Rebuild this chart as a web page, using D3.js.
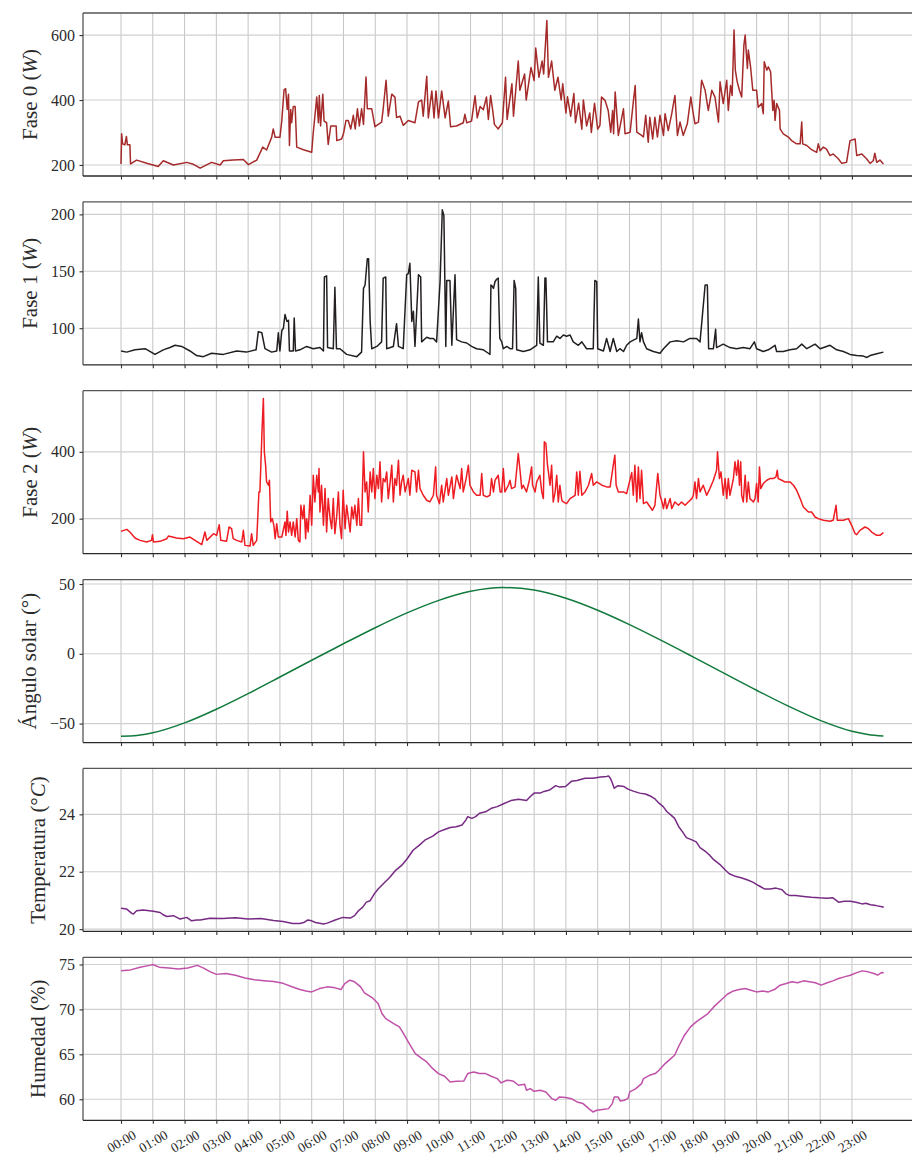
<!DOCTYPE html>
<html>
<head>
<meta charset="utf-8">
<script src="https://cdn.jsdelivr.net/npm/d3@7"></script>
<style>
  body { margin: 0; background: #fff; }
  svg { display: block; font-family: "Liberation Serif", "Times New Roman", serif; }
</style>
</head>
<body>
<div id="chart"></div>
<script>
// hours of the day (x values are decimal hours)
const hourTicks = [0,1,2,3,4,5,6,7,8,9,10,11,12,13,14,15,16,17,18,19,20,21,22,23];
const hourLabels = ["00:00","01:00","02:00","03:00","04:00","05:00","06:00","07:00","08:00","09:00","10:00","11:00",
  "12:00","13:00","14:00","15:00","16:00","17:00","18:00","19:00","20:00","21:00","22:00","23:00"];
const xDomain = [-1.196, 25.11];

// Fase 0 (W)
const fase0 = [[0,203],[0.02,296],[0.05,265],[0.12,262],[0.17,288],[0.2,262],[0.28,262],[0.3,203],
  [0.49,215],[0.81,205],[1.17,195],[1.33,213],[1.65,200],[2.07,208],[2.28,202],[2.49,190],[2.85,208],[3.12,200],
  [3.22,213],[3.53,215],[3.85,217],[4.01,201],[4.27,215],[4.46,255],[4.58,246],[4.74,285],[4.79,311],[4.85,285],
  [5.0,285],[5.06,337],[5.13,431],[5.18,435],[5.23,371],[5.27,418],[5.3,260],[5.34,371],[5.37,330],[5.42,380],
  [5.48,380],[5.53,255],[5.74,247],[6.0,239],[6.05,300],[6.16,409],[6.21,330],[6.24,414],[6.28,320],[6.35,418],
  [6.39,335],[6.47,330],[6.52,263],[6.6,320],[6.77,320],[6.79,275],[6.94,280],[7.0,296],[7.08,337],[7.15,337],
  [7.23,311],[7.31,353],[7.37,311],[7.44,373],[7.5,320],[7.57,373],[7.63,325],[7.71,471],[7.75,373],[7.89,373],
  [7.99,318],[8.2,332],[8.25,373],[8.34,461],[8.41,350],[8.52,418],[8.62,409],[8.67,346],[8.78,350],[8.88,322],
  [9.04,337],[9.25,330],[9.36,394],[9.46,400],[9.51,350],[9.62,473],[9.67,345],[9.78,428],[9.85,345],[9.91,428],
  [9.99,345],[10.09,428],[10.2,345],[10.3,397],[10.37,318],[10.56,320],[10.77,330],[10.82,356],[10.88,330],
  [11.03,335],[11.14,413],[11.21,345],[11.3,380],[11.4,370],[11.5,409],[11.56,340],[11.63,414],[11.7,365],
  [11.75,325],[11.87,311],[11.93,320],[12.0,330],[12.1,470],[12.15,340],[12.3,450],[12.35,350],[12.5,520],
  [12.55,430],[12.7,480],[12.75,400],[12.9,500],[13.0,460],[13.05,560],[13.15,470],[13.25,520],[13.3,480],
  [13.4,645],[13.45,470],[13.55,520],[13.65,430],[13.75,470],[13.85,400],[13.9,450],[14.0,360],[14.05,410],
  [14.15,350],[14.25,420],[14.3,330],[14.4,390],[14.5,310],[14.55,400],[14.65,320],[14.75,360],[14.8,300],
  [14.9,390],[15.0,310],[15.07,322],[15.12,409],[15.23,399],[15.33,368],[15.41,301],[15.47,368],[15.5,296],
  [15.55,425],[15.65,291],[15.81,373],[15.86,296],[16.02,301],[16.12,394],[16.18,445],[16.23,301],[16.38,291],
  [16.44,286],[16.51,353],[16.59,270],[16.64,347],[16.73,280],[16.8,347],[16.88,286],[16.96,353],[17.07,291],
  [17.12,358],[17.22,306],[17.33,358],[17.43,414],[17.51,291],[17.59,332],[17.69,291],[17.82,327],[17.93,409],
  [17.99,368],[18.06,327],[18.17,332],[18.27,461],[18.38,430],[18.48,368],[18.59,430],[18.69,409],[18.8,332],
  [18.85,456],[18.95,389],[19.06,461],[19.11,368],[19.18,445],[19.23,414],[19.29,616],[19.33,492],[19.39,456],
  [19.46,430],[19.53,409],[19.6,569],[19.64,600],[19.71,497],[19.74,554],[19.81,502],[19.88,430],[20.0,430],
  [20.05,378],[20.16,389],[20.21,358],[20.24,518],[20.32,492],[20.37,502],[20.44,487],[20.51,368],[20.55,399],
  [20.58,337],[20.63,389],[20.72,368],[20.74,311],[20.84,296],[21.0,286],[21.1,275],[21.26,265],[21.37,265],
  [21.42,332],[21.45,265],[21.58,260],[21.73,247],[21.89,239],[21.94,265],[22.0,244],[22.1,255],[22.2,249],
  [22.31,229],[22.41,234],[22.57,219],[22.68,205],[22.83,208],[22.94,275],[23.1,280],[23.15,229],[23.31,234],
  [23.46,219],[23.57,205],[23.67,213],[23.72,236],[23.78,208],[23.88,215],[23.99,203]];

// Fase 1 (W)
const fase1 = [[0,80],[0.18,79],[0.44,81],[0.76,82],[1.07,77],[1.33,81],[1.54,83],[1.7,85],[1.91,84],[2.17,80],
  [2.38,76],[2.59,75],[2.85,78],[3.22,77],[3.64,80],[3.95,79],[4.25,81],[4.32,97],[4.43,96],[4.53,82],[4.74,79],
  [4.9,80],[4.95,96],[5.0,80],[5.06,98],[5.11,100],[5.16,112],[5.22,106],[5.27,107],[5.3,80],[5.42,80],[5.45,109],
  [5.49,80],[5.63,81],[5.84,84],[6.05,82],[6.26,83],[6.37,80],[6.4,145],[6.47,146],[6.5,83],[6.68,82],[6.73,136],
  [6.78,82],[6.89,82],[7.1,77],[7.42,75],[7.57,79],[7.63,135],[7.68,138],[7.75,161],[7.79,161],[7.84,106],
  [7.89,82],[8.05,84],[8.2,88],[8.25,144],[8.33,145],[8.36,82],[8.57,84],[8.67,104],[8.73,84],[8.88,82],[8.99,147],
  [9.04,148],[9.09,157],[9.15,106],[9.2,115],[9.25,84],[9.36,147],[9.43,145],[9.46,88],[9.62,92],[9.72,91],
  [9.83,91],[9.93,88],[10.04,141],[10.11,204],[10.16,199],[10.22,84],[10.25,142],[10.35,142],[10.41,85],
  [10.51,147],[10.56,90],[10.72,88],[10.88,87],[11.03,84],[11.19,82],[11.4,81],[11.56,78],[11.61,77],[11.64,138],
  [11.68,137],[11.72,135],[11.77,141],[11.82,143],[11.87,144],[11.92,91],[11.98,88],[12.03,82],[12.14,84],
  [12.24,82],[12.32,82],[12.37,142],[12.42,135],[12.45,81],[12.66,79.5],[12.87,81],[13.03,84],[13.08,85],
  [13.13,145],[13.18,87],[13.29,85],[13.34,144],[13.37,144],[13.42,88],[13.6,88],[13.71,93],[13.81,91],[13.92,94],
  [14.02,93],[14.13,94],[14.23,88],[14.39,85],[14.5,88],[14.65,82],[14.86,82],[14.91,142],[14.97,141],[15.0,82],
  [15.18,80],[15.28,91],[15.39,79.5],[15.49,91],[15.6,79.5],[15.7,82],[15.81,79.5],[15.91,85],[16.02,88],
  [16.23,91],[16.28,108],[16.33,88],[16.38,96],[16.44,88],[16.54,82],[16.75,79.5],[16.96,78],[17.07,82],[17.28,88],
  [17.49,89],[17.7,88],[17.9,91],[18.11,91],[18.22,88],[18.38,138],[18.45,138],[18.49,82],[18.64,82],[18.71,99],
  [18.74,83],[18.95,86],[19.16,83],[19.37,82],[19.58,83],[19.79,82],[19.93,88],[20.0,82],[20.21,79.5],[20.37,81],
  [20.58,85],[20.63,79.5],[20.84,79.5],[21.05,81],[21.26,82],[21.42,86],[21.58,82],[21.84,86],[22.0,82],[22.2,84],
  [22.31,85],[22.52,81],[22.73,79.5],[22.94,77],[23.15,76],[23.36,75.5],[23.47,74.3],[23.57,76],[23.78,77.5],
  [23.99,79]];

// Fase 2 (W)
const fase2 = [[0,162],[0.18,168],[0.28,160],[0.44,142],[0.6,135],[0.81,130],[0.96,135],[0.99,152],[1.02,130],
  [1.23,132],[1.44,140],[1.49,148],[1.75,142],[1.96,140],[2.17,145],[2.33,135],[2.54,122],[2.64,160],[2.7,135],
  [2.91,155],[3.01,150],[3.09,182],[3.14,135],[3.32,132],[3.4,175],[3.48,170],[3.53,140],[3.64,135],[3.8,130],
  [3.85,165],[3.9,120],[4.06,118],[4.11,155],[4.16,120],[4.27,135],[4.34,280],[4.37,280],[4.4,360],[4.44,470],
  [4.48,560],[4.51,400],[4.55,360],[4.58,310],[4.64,300],[4.67,315],[4.71,190],[4.76,200],[4.81,180],[4.85,140],
  [4.9,185],[4.95,145],[5.06,145],[5.16,190],[5.19,150],[5.23,222],[5.27,160],[5.32,190],[5.37,150],[5.42,190],
  [5.48,145],[5.53,200],[5.58,135],[5.63,130],[5.66,240],[5.72,200],[5.76,240],[5.81,140],[5.84,200],[5.89,160],
  [5.95,270],[6.0,180],[6.05,330],[6.1,250],[6.16,330],[6.21,280],[6.23,350],[6.26,220],[6.31,300],[6.37,180],
  [6.42,290],[6.47,160],[6.52,260],[6.58,200],[6.63,170],[6.68,260],[6.73,155],[6.79,210],[6.84,280],[6.89,180],
  [6.94,140],[6.99,285],[7.05,170],[7.1,240],[7.21,160],[7.26,235],[7.31,200],[7.36,240],[7.42,180],[7.47,260],
  [7.52,180],[7.57,180],[7.63,400],[7.68,280],[7.73,310],[7.78,220],[7.84,340],[7.89,280],[7.94,350],[7.99,260],
  [8.05,330],[8.1,290],[8.15,370],[8.2,250],[8.25,320],[8.31,310],[8.36,340],[8.41,260],[8.47,310],[8.52,360],
  [8.57,250],[8.62,320],[8.67,300],[8.73,375],[8.78,270],[8.83,310],[8.88,330],[8.94,280],[9.04,320],[9.09,270],
  [9.15,345],[9.25,340],[9.3,280],[9.36,345],[9.41,290],[9.51,270],[9.62,255],[9.72,250],[9.83,270],[9.9,355],
  [9.93,270],[10.02,245],[10.09,300],[10.14,250],[10.25,320],[10.3,270],[10.41,325],[10.46,260],[10.56,330],
  [10.67,290],[10.72,350],[10.77,280],[10.86,320],[10.93,360],[10.98,300],[11.09,280],[11.19,270],[11.3,270],
  [11.35,335],[11.4,270],[11.51,265],[11.61,270],[11.66,320],[11.72,280],[11.77,315],[11.87,330],[11.93,280],
  [11.98,280],[12.03,350],[12.08,280],[12.19,300],[12.24,315],[12.29,290],[12.4,295],[12.5,395],[12.55,350],
  [12.61,290],[12.66,300],[12.76,280],[12.85,315],[12.92,355],[12.95,300],[13.03,280],[13.08,310],[13.18,330],
  [13.24,280],[13.29,260],[13.32,430],[13.37,425],[13.42,360],[13.45,340],[13.5,300],[13.55,360],[13.6,250],
  [13.66,280],[13.71,330],[13.76,250],[13.81,300],[13.87,255],[13.92,250],[14.02,245],[14.13,260],[14.29,270],
  [14.34,340],[14.39,270],[14.44,342],[14.5,270],[14.6,280],[14.71,300],[14.81,335],[14.86,300],[14.97,310],
  [15.13,300],[15.28,295],[15.39,295],[15.49,360],[15.54,390],[15.58,300],[15.65,280],[15.81,280],[15.91,275],
  [16.07,338],[16.12,270],[16.17,360],[16.23,250],[16.28,355],[16.33,260],[16.38,345],[16.44,245],[16.54,250],
  [16.65,235],[16.72,225],[16.8,240],[16.89,335],[16.96,270],[17.01,255],[17.07,230],[17.12,260],[17.17,230],
  [17.28,260],[17.33,230],[17.43,250],[17.54,240],[17.64,250],[17.75,240],[17.85,250],[17.96,260],[18.01,270],
  [18.06,310],[18.11,260],[18.17,320],[18.22,280],[18.32,300],[18.43,270],[18.53,290],[18.64,315],[18.74,345],
  [18.77,400],[18.83,320],[18.88,340],[18.95,270],[19.01,320],[19.06,260],[19.11,320],[19.16,270],[19.27,320],
  [19.32,370],[19.37,330],[19.42,375],[19.46,300],[19.5,370],[19.53,270],[19.58,250],[19.64,330],[19.69,250],
  [19.74,310],[19.79,260],[19.9,250],[19.95,260],[20.0,305],[20.05,250],[20.09,355],[20.13,290],[20.21,305],
  [20.32,315],[20.42,320],[20.53,320],[20.61,325],[20.65,345],[20.68,320],[20.79,315],[20.89,310],[21.05,310],
  [21.16,300],[21.26,285],[21.37,260],[21.47,235],[21.63,220],[21.73,220],[21.84,205],[21.94,200],[22.1,195],
  [22.31,192],[22.41,195],[22.5,240],[22.54,195],[22.73,195],[22.89,200],[22.99,180],[23.1,155],[23.15,152],
  [23.25,165],[23.41,175],[23.52,170],[23.62,160],[23.78,150],[23.88,150],[23.99,158]];

// Ángulo solar (°)
const angulo = [[0,-59.0],[0.5,-58.5],[1,-56.6],[2,-49.5],[3,-39.7],[4,-28.5],[5,-16.6],[6,-4.6],[7,7.2],
  [8,18.7],[9,29.3],[10,38.3],[11,44.8],[12,47.5],[13,45.7],[14,39.8],[15,31.2],[16,20.9],[17,9.6],[18,-2.2],
  [19,-14.2],[20,-26.1],[21,-37.5],[22,-47.7],[23,-55.5],[23.5,-57.8],[23.99,-58.9]];

// Temperatura (°C)
const temperatura = [[0,20.73],[0.18,20.70],[0.34,20.55],[0.39,20.53],[0.49,20.64],[0.7,20.67],[1.02,20.62],
  [1.23,20.58],[1.33,20.50],[1.44,20.44],[1.65,20.47],[1.86,20.35],[2.07,20.41],[2.22,20.29],[2.38,20.32],
  [2.49,20.32],[2.8,20.38],[3.2,20.37],[3.6,20.40],[4.0,20.35],[4.4,20.37],[4.8,20.30],[5.1,20.27],[5.4,20.20],
  [5.63,20.20],[5.75,20.23],[5.88,20.32],[6.0,20.29],[6.12,20.23],[6.37,20.18],[6.49,20.21],[6.74,20.32],
  [6.98,20.41],[7.23,20.39],[7.35,20.47],[7.47,20.64],[7.6,20.76],[7.72,20.94],[7.84,20.99],[7.97,21.23],
  [8.09,21.40],[8.27,21.60],[8.46,21.81],[8.64,22.05],[8.83,22.22],[9.01,22.46],[9.19,22.75],[9.38,22.92],
  [9.56,23.10],[9.81,23.24],[9.99,23.39],[10.18,23.47],[10.36,23.54],[10.55,23.57],[10.73,23.63],[10.85,23.80],
  [10.91,23.92],[11.04,23.86],[11.16,23.92],[11.28,24.04],[11.47,24.09],[11.65,24.21],[11.84,24.27],[12.02,24.36],
  [12.27,24.48],[12.51,24.53],[12.76,24.48],[12.88,24.62],[13.0,24.74],[13.19,24.74],[13.31,24.80],[13.49,24.85],
  [13.68,25.00],[13.8,24.95],[13.99,24.97],[14.17,25.15],[14.35,25.18],[14.6,25.26],[14.85,25.26],[15.09,25.30],
  [15.28,25.32],[15.34,25.34],[15.4,25.26],[15.46,25.09],[15.52,24.91],[15.64,25.00],[15.83,24.97],[15.95,24.88],
  [16.14,24.80],[16.32,24.74],[16.5,24.71],[16.69,24.62],[16.81,24.53],[16.93,24.39],[17.06,24.27],[17.18,24.09],
  [17.3,23.98],[17.42,23.86],[17.55,23.57],[17.67,23.39],[17.79,23.19],[17.98,23.10],[18.1,23.04],[18.22,22.84],
  [18.41,22.69],[18.53,22.57],[18.65,22.42],[18.84,22.26],[19.02,22.05],[19.14,21.93],[19.33,21.84],[19.51,21.79],
  [19.7,21.72],[19.88,21.64],[20.06,21.52],[20.25,21.40],[20.43,21.40],[20.61,21.43],[20.8,21.37],[20.92,21.23],
  [21.05,21.17],[21.23,21.17],[21.48,21.14],[21.72,21.11],[21.97,21.09],[22.21,21.08],[22.4,21.09],[22.58,20.94],
  [22.76,20.97],[22.95,20.97],[23.13,20.94],[23.32,20.88],[23.44,20.90],[23.58,20.85],[23.76,20.82],[23.94,20.78],
  [24.0,20.76]];

// Humedad (%)
const humedad = [[0,74.3],[0.3,74.4],[0.6,74.7],[0.9,74.9],[1.0,75.0],[1.2,74.7],[1.5,74.6],[1.8,74.5],[2.1,74.6],
  [2.4,74.9],[2.6,74.6],[2.8,74.2],[3.0,73.9],[3.3,74.0],[3.6,73.8],[3.9,73.5],[4.2,73.3],[4.5,73.2],[4.8,73.1],
  [5.1,72.9],[5.4,72.5],[5.63,72.21],[5.82,72.06],[6.0,71.95],[6.25,72.32],[6.49,72.51],[6.74,72.40],[6.92,72.21],
  [7.04,72.88],[7.2,73.25],[7.35,73.07],[7.54,72.51],[7.66,71.84],[7.9,71.32],[8.09,70.65],[8.21,69.54],
  [8.33,68.98],[8.58,68.43],[8.76,68.06],[8.89,67.31],[9.07,66.20],[9.26,65.09],[9.44,64.60],[9.62,64.16],
  [9.81,63.41],[9.99,62.86],[10.18,62.56],[10.36,61.93],[10.55,62.00],[10.79,62.04],[10.91,62.86],[11.1,63.04],
  [11.28,62.86],[11.47,62.86],[11.65,62.56],[11.84,62.30],[11.96,61.82],[12.14,62.12],[12.33,62.04],[12.51,61.56],
  [12.7,61.67],[12.76,61.00],[12.88,61.19],[13.0,60.89],[13.19,61.00],[13.37,60.82],[13.56,60.07],[13.68,59.89],
  [13.8,60.26],[13.99,60.19],[14.17,60.07],[14.35,59.70],[14.54,59.52],[14.72,58.96],[14.85,58.59],[14.97,58.78],
  [15.15,58.85],[15.34,58.96],[15.46,59.52],[15.52,60.26],[15.64,60.26],[15.71,59.82],[15.83,59.89],[15.95,60.07],
  [16.01,60.82],[16.2,61.19],[16.38,61.74],[16.44,62.30],[16.63,62.67],[16.81,62.86],[16.93,63.23],[17.12,63.97],
  [17.3,64.53],[17.42,64.90],[17.55,65.90],[17.73,67.13],[17.92,68.06],[18.1,68.61],[18.29,69.09],[18.47,69.54],
  [18.65,70.28],[18.9,71.10],[19.08,71.69],[19.27,72.06],[19.45,72.21],[19.64,72.32],[19.82,72.14],[20.0,71.95],
  [20.19,72.06],[20.37,71.95],[20.56,72.21],[20.74,72.70],[20.93,72.88],[21.11,73.07],[21.29,72.96],[21.48,73.18],
  [21.66,73.07],[21.85,72.96],[22.03,72.70],[22.22,72.96],[22.4,73.18],[22.58,73.44],[22.76,73.62],[22.95,73.81],
  [23.13,74.07],[23.32,74.29],[23.51,74.18],[23.69,74.00],[23.81,73.81],[23.94,74.11],[24.0,74.07]];

// y axis ticks and limits per panel
const ticks0 = [200, 400, 600], lim0 = [166, 668];
const ticks1 = [100, 150, 200], lim1 = [67.8, 211];
const ticks2 = [200, 400], lim2 = [95, 583];
const ticks3 = [-50, 0, 50], lim3 = [-63.6, 53.2];
const ticks4 = [20, 22, 24], lim4 = [19.92, 25.6];
const ticks5 = [60, 65, 70, 75], lim5 = [57.66, 75.8];

const panels = [
  { data: fase0, ticks: ticks0, lim: lim0, color: "#a52a2a", label: ["Fase 0 (", "W", ")"] },
  { data: fase1, ticks: ticks1, lim: lim1, color: "#231f20", label: ["Fase 1 (", "W", ")"] },
  { data: fase2, ticks: ticks2, lim: lim2, color: "#ee1d23", label: ["Fase 2 (", "W", ")"] },
  { data: angulo, ticks: ticks3, lim: lim3, color: "#117a3c", label: ["Ángulo solar (°)", "", ""] },
  { data: temperatura, ticks: ticks4, lim: lim4, color: "#762a83", label: ["Temperatura (°", "C", ")"] },
  { data: humedad, ticks: ticks5, lim: lim5, color: "#c051a8", label: ["Humedad (%)", "", ""] }
];

const width = 912, height = 1155;
const left = 83, right = 919;
const firstTop = 13, step = 188.86, panelH = 163;

const svg = d3.select("#chart").append("svg")
  .attr("width", width)
  .attr("height", height);

const x = d3.scaleLinear().domain(xDomain).range([left, right]);
const fmt = d3.format("d");

panels.forEach((p, i) => {
  const top = firstTop + i * step;
  const bottom = top + panelH;
  const y = d3.scaleLinear().domain(p.lim).range([bottom, top]);
  const g = svg.append("g");

  // grid
  g.append("g").selectAll("line").data(hourTicks).enter().append("line")
    .attr("x1", d => x(d)).attr("x2", d => x(d))
    .attr("y1", top).attr("y2", bottom)
    .attr("stroke", "#c4c4c4").attr("stroke-width", 1);
  g.append("g").selectAll("line").data(p.ticks).enter().append("line")
    .attr("x1", left).attr("x2", right)
    .attr("y1", d => y(d)).attr("y2", d => y(d))
    .attr("stroke", "#cfcfcf").attr("stroke-width", 1.1);

  // clip for the series
  svg.append("clipPath").attr("id", "clip" + i)
    .append("rect").attr("x", left).attr("y", top).attr("width", right - left).attr("height", panelH);

  const line = d3.line()
    .x(d => x(d[0]))
    .y(d => y(d[1]));
  if (i === 3) line.curve(d3.curveMonotoneX);

  g.append("path")
    .datum(p.data)
    .attr("clip-path", `url(#clip${i})`)
    .attr("fill", "none")
    .attr("stroke", p.color)
    .attr("stroke-width", 1.5)
    .attr("stroke-linejoin", "round")
    .attr("d", line);

  // spines
  g.append("line").attr("x1", left).attr("x2", right).attr("y1", top).attr("y2", top)
    .attr("stroke", "#555").attr("stroke-width", 1.3);
  g.append("line").attr("x1", left).attr("x2", left).attr("y1", top).attr("y2", bottom)
    .attr("stroke", "#555").attr("stroke-width", 1.3);
  g.append("line").attr("x1", left).attr("x2", right).attr("y1", bottom).attr("y2", bottom)
    .attr("stroke", "#2a2a2a").attr("stroke-width", 1.3);

  // y axis
  const yAxis = d3.axisLeft(y)
    .tickValues(p.ticks)
    .tickFormat(fmt)
    .tickSize(3.5)
    .tickPadding(4.5)
    .tickSizeOuter(0);
  const ya = g.append("g")
    .attr("transform", `translate(${left},0)`)
    .call(yAxis);
  ya.select(".domain").remove();
  ya.selectAll(".tick line").attr("stroke", "#333").attr("stroke-width", 1.1);
  ya.selectAll(".tick text")
    .attr("fill", "#2b2b2b")
    .style("font-family", "\"Liberation Serif\", serif")
    .style("font-size", "16px");

  // x axis (labels only on the last panel)
  const last = i === panels.length - 1;
  const xAxis = d3.axisBottom(x)
    .tickValues(hourTicks)
    .tickSize(3.5)
    .tickSizeOuter(0)
    .tickFormat((d, k) => last ? hourLabels[k] : "");
  const xa = g.append("g")
    .attr("transform", `translate(0,${bottom})`)
    .call(xAxis);
  xa.select(".domain").remove();
  xa.selectAll(".tick line").attr("stroke", "#333").attr("stroke-width", 1.1);
  if (last) {
    xa.selectAll(".tick text")
      .attr("y", 0)
      .attr("dy", null)
      .attr("text-anchor", "middle")
      .attr("dominant-baseline", "central")
      .attr("transform", "translate(0,21) rotate(-30)")
      .attr("fill", "#2b2b2b")
      .style("font-family", "\"Liberation Serif\", serif")
      .style("font-size", "13.5px");
  }

  // y label, placed left of the widest tick label
  let minLeft = Infinity;
  ya.selectAll(".tick text").each(function() {
    const b = this.getBBox();
    const m = this.parentNode.transform.baseVal.consolidate();
    const tx = m ? m.matrix.e : 0;
    minLeft = Math.min(minLeft, b.x + tx + left);
  });
  const cy = (top + bottom) / 2;
  const lx = minLeft - 14;
  const lab = g.append("text")
    .attr("transform", `translate(${lx},${cy}) rotate(-90)`)
    .attr("text-anchor", "middle")
    .attr("fill", "#2b2b2b")
    .style("font-size", "21px");
  lab.append("tspan").text(p.label[0]);
  if (p.label[1]) lab.append("tspan").attr("font-style", "italic").text(p.label[1]);
  if (p.label[2]) lab.append("tspan").text(p.label[2]);
});
</script>
</body>
</html>
